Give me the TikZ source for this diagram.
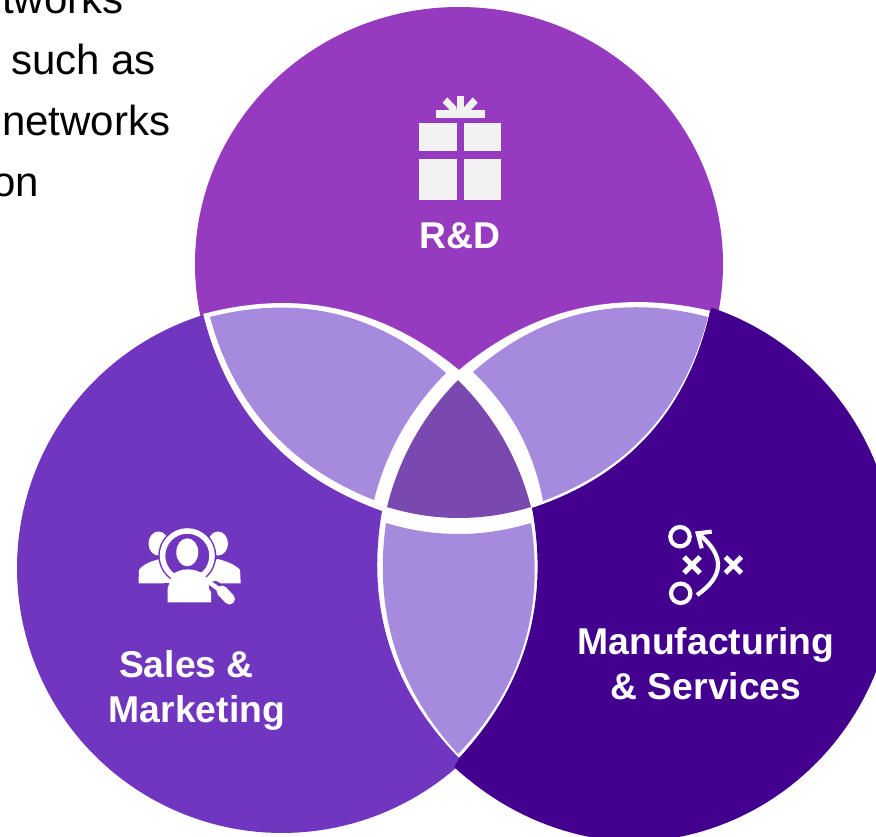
\documentclass[tikz,border=0pt]{standalone}
\usepackage{fontspec}
\setmainfont{Liberation Sans}
\usetikzlibrary{calc}
\definecolor{rdcol}{HTML}{963ABF}
\definecolor{smcol}{HTML}{7036BF}
\definecolor{mscol}{HTML}{43008F}
\definecolor{lenscol}{HTML}{A68ADE}
\definecolor{midcol}{HTML}{7A49AF}
\definecolor{giftcol}{HTML}{F2F2F2}
% arc-like cubic from #1 through its midpoint #2 to #3
\newcommand\seg[3]{.. controls ($1.3333*(#2)-0.3333*(#3)$) and ($1.3333*(#2)-0.3333*(#1)$) .. (#3)}
\tikzset{
  bodytext/.style={inner sep=0pt,anchor=base west,text=black,font=\fontsize{42}{50}\selectfont},
  label/.style={inner sep=0pt,anchor=base,text=white,font=\bfseries\fontsize{37.3}{44}\selectfont},
  iconline/.style={draw=white,line width=4.2pt},
}
\begin{document}
\begin{tikzpicture}[x=1pt,y=-1pt]
\useasboundingbox (0,0) rectangle (876,837);
\clip (0,0) rectangle (876,837);
\fill[white] (0,0) rectangle (876,837);
% text behind
\node[bodytext] (t1) at (2,14) {tworks};
\node[bodytext] (t2) at (11,75) {such as};
\node[bodytext] (t3) at (2,136) {networks};
\node[bodytext] (t4) at (-8,197) {on};
% top circle
\fill[rdcol] (459,264) ellipse[x radius=264pt,y radius=257pt];
% white hole
\fill[white] (203,314) \seg{203,314}{338,309}{459,370} \seg{459,370}{577,309}{711,311}
  -- (711,307) \seg{711,307}{650,433.4}{532,508} \seg{532,508}{527,642}{459,758}
  \seg{459,758}{389,644.3}{382,511} \seg{382,511}{266,436.6}{203,314} -- cycle;
% left shape
\fill[smcol] (203,314) \seg{203,314}{266,436.6}{382,511} \seg{382,511}{389,644.3}{459,758}
  -- (454,767) -- plot[domain=49:252.7,samples=120] ({282+265*cos(\x)},{568+265*sin(\x)}) -- cycle;
% right shape
\fill[mscol] (711,307) \seg{711,307}{650,433.4}{532,508} \seg{532,508}{527,642}{459,758}
  -- (454,767) \seg{454,767}{535,820}{628,842}
  -- plot[domain=90:-72.0,samples=120] ({628+268*cos(\x)},{568+274*sin(\x)}) -- cycle;
% lenses
\fill[lenscol] (210,317) \seg{210,317}{335.4,313.9}{446,373} \seg{446,373}{401.3,431.6}{374,500} \seg{374,500}{269,429}{210,317} -- cycle;
\fill[lenscol] (473,372) \seg{473,372}{583,313.3}{708,317} \seg{708,317}{649,431}{543,501} \seg{543,501}{518.5,430.8}{473,372} -- cycle;
\fill[lenscol] (386,523) \seg{386,523}{458.5,534}{531,523} \seg{531,523}{523,647.5}{458,754} \seg{458,754}{394.6,647}{386,523} -- cycle;
\fill[midcol] (458,380) \seg{458,380}{503.2,438.5}{531,507} \seg{531,507}{459,518}{387,507} \seg{387,507}{413.8,438.6}{458,380} -- cycle;
% gift icon
\begin{scope}[giftcol]
\fill (419,123.3) rectangle (456.7,151);
\fill (463.7,123.3) rectangle (501.3,151);
\fill (419,159.3) rectangle (456.7,200);
\fill (463.7,159.3) rectangle (501.3,200);
\fill (436,110.3) rectangle (484.7,118);
\fill (456.7,95.7) rectangle (464,110.3);
\fill (442.7,102.7) -- (447.3,97.3) -- (456.7,107.3) -- (456.7,110.3) -- (450,110.3) -- cycle;
\fill (477.7,102.7) -- (472.7,97.3) -- (464,107.3) -- (464,110.3) -- (470.7,110.3) -- cycle;
\end{scope}
% people icon
\fill[white] (158.5,543.5) ellipse[x radius=10pt,y radius=12pt];
\fill[white] (218,543.5) ellipse[x radius=10pt,y radius=12pt];
\fill[white] (138.5,583.3) -- (139,570) .. controls (143,564) and (152,561) .. (160,559) -- (190,570) -- (218,559) .. controls (225,561) and (235,564) .. (240,570) -- (240.7,583.3) -- cycle;
\fill[smcol] (187.3,555.7) circle[radius=29pt];
\fill[smcol] (164,583.3) rectangle (215,606);
\begin{scope}
\clip (187.3,555.7) circle[radius=25pt];
\fill[white] (187.3,552.3) ellipse[x radius=11pt,y radius=14pt];
\end{scope}
\fill[white] (167.7,602.3) -- (167.7,588.3) -- (172,575) .. controls (180,567.5) and (195,567.5) .. (205,575) -- (211,591.7) -- (211,602.3) -- cycle;
\draw[smcol,line width=12pt,line cap=round] (215,587) -- (230,600);
\draw[white,line width=5.5pt] (187.3,555.7) circle[radius=24.75pt];
\draw[white,line width=4.5pt] (206,580) -- (220,590);
\draw[white,line width=11pt,line cap=round] (222,591) -- (229.5,599);
% play icon
\draw[iconline] (680,536.7) circle[radius=9.7pt];
\draw[iconline] (680.7,593.3) circle[radius=9.7pt];
\draw[iconline,line width=5pt] (684,557) -- (700,573) (684,573) -- (700,557);
\draw[iconline,line width=5pt] (725.3,557) -- (741.3,573) (725.3,573) -- (741.3,557);
\draw[iconline] (697,595) \seg{697,595}{718,566}{700,535};
\draw[iconline,miter limit=10] (711.7,531.7) -- (697.7,533.3) -- (701.7,548.3);
% labels
\node[label] (rd) at (460,248.5) {R\&D};
\node[label] (sm1) at (186.5,677) {Sales \&};
\node[label] (sm2) at (197,722) {Marketing};
\node[label] (ms1) at (706,654) {Manufacturing};
\node[label] (ms2) at (706,699) {\& Services};
\end{tikzpicture}
\end{document}
